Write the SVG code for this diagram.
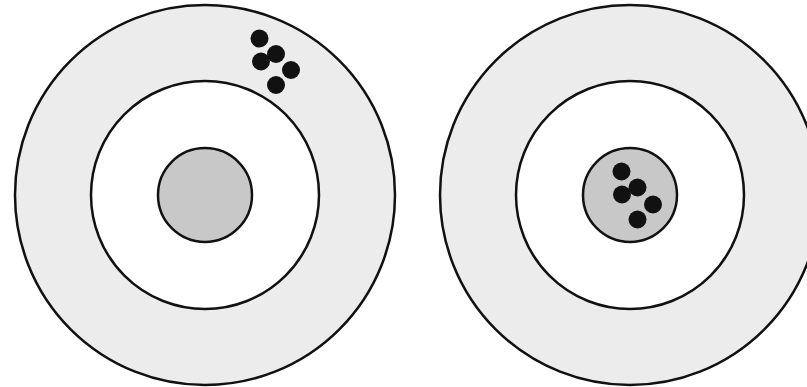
<svg xmlns="http://www.w3.org/2000/svg" width="807" height="387" viewBox="0 0 807 387">
<style>
.outer{fill:#ececec;stroke:#111;stroke-width:2.5}
.mid{fill:#fff;stroke:#111;stroke-width:2.5}
.inner{fill:#c8c8c8;stroke:#111;stroke-width:2.5}
.dot{fill:#111}
</style>
<rect width="807" height="387" fill="#fff"/>
<g id="target-left">
<circle class="outer" cx="205" cy="195" r="190"/>
<circle class="mid" cx="205" cy="195" r="114"/>
<circle class="inner" cx="205" cy="195" r="47"/>
<circle class="dot" cx="259.5" cy="38.5" r="9"/>
<circle class="dot" cx="276" cy="54" r="9"/>
<circle class="dot" cx="261" cy="61.5" r="9"/>
<circle class="dot" cx="291" cy="70" r="9"/>
<circle class="dot" cx="276" cy="85" r="9"/>
</g>
<g id="target-right">
<circle class="outer" cx="630" cy="195" r="190"/>
<circle class="mid" cx="630" cy="195" r="114"/>
<circle class="inner" cx="630" cy="195" r="47"/>
<circle class="dot" cx="621.5" cy="171.5" r="9"/>
<circle class="dot" cx="637.5" cy="187.5" r="9"/>
<circle class="dot" cx="622" cy="194.5" r="9"/>
<circle class="dot" cx="653" cy="204.5" r="9"/>
<circle class="dot" cx="637.5" cy="219.5" r="9"/>
</g>
<g id="connectors"/>
</svg>
